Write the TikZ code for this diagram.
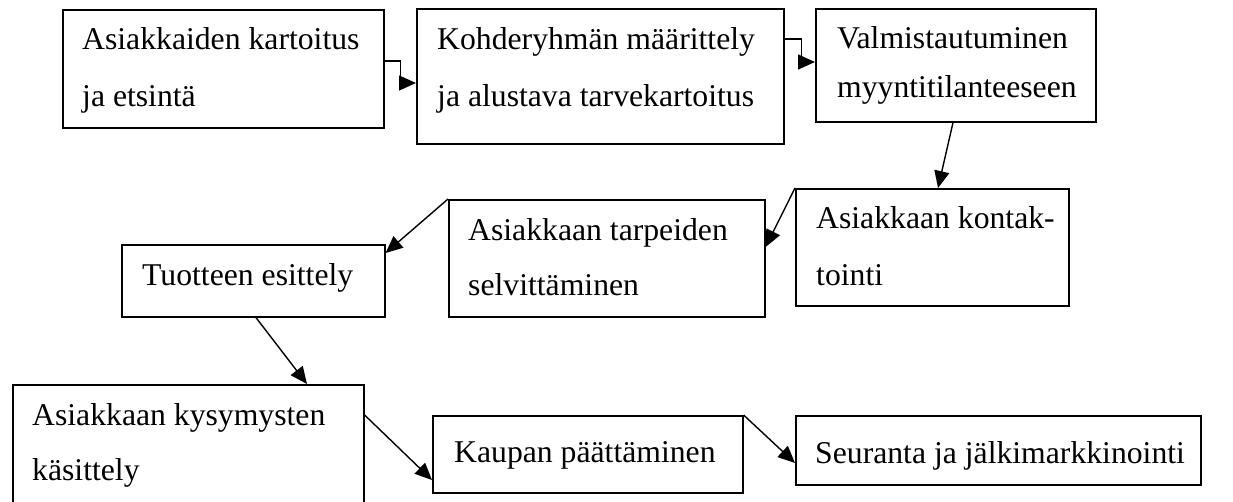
\documentclass[tikz,border=0pt]{standalone}
\usepackage{fontspec}
\setmainfont{Liberation Serif}
\usetikzlibrary{arrows.meta}

\tikzset{
  box/.style={draw, line width=1.6pt, anchor=north west, inner sep=0pt},
  txt/.style={anchor=north west, inner sep=0pt, align=left,
    font=\fontsize{31.7}{#1}\selectfont},
  txt/.default=57,
  arr/.style={line width=1.4pt, -{Triangle[length=17pt,width=15pt]}}
}

\begin{document}
\begin{tikzpicture}[x=1pt,y=-1pt]
\clip (0,0) rectangle (1233,501);
% top row
\node[box, minimum width=321pt, minimum height=118pt] (b1) at (62,9) {};
\node[txt] (t1) at (82,27) {Asiakkaiden kartoitus\\ja etsintä};
\node[box, minimum width=367pt, minimum height=135pt] (b2) at (416,8) {};
\node[txt] (t2) at (437,27) {Kohderyhmän määrittely\\ja alustava tarvekartoitus};
\node[box, minimum width=280pt, minimum height=113pt] (b3) at (815,8) {};
\node[txt=49] (t3) at (837,26) {Valmistautuminen\\myyntitilanteeseen};

% middle row
\node[box, minimum width=273pt, minimum height=117pt] (b5) at (795,188) {};
\node[txt] (t5) at (816,206) {Asiakkaan kontak-\\tointi};
\node[box, minimum width=316pt, minimum height=117pt] (b4) at (448,199) {};
\node[txt=55] (t4) at (468,218) {Asiakkaan tarpeiden\\selvittäminen};
\node[box, minimum width=263pt, minimum height=72pt] (b6) at (121,244) {};
\node[txt] (t6) at (142,263) {Tuotteen esittely};

% bottom row
\node[box, minimum width=351pt, minimum height=140pt] (b7) at (12,384) {};
\node[txt=55] (t7) at (32,403) {Asiakkaan kysymysten\\käsittely};
\node[box, minimum width=310pt, minimum height=77pt] (b8) at (432,415) {};
\node[txt] (t8) at (454,441) {Kaupan päättäminen};
\node[box, minimum width=405pt, minimum height=69pt] (b9) at (795,415) {};
\node[txt] (t9) at (815,441) {Seuranta ja jälkimarkkinointi};

% arrows
\draw[arr] ([yshift=-52pt]b1.north east) -- ++(16,0) |- ([yshift=-75pt]b2.north west);
\draw[arr] ([yshift=-31pt]b2.north east) -- ++(17,0) |- ([yshift=-54pt]b3.north west);
\draw[arr] ([xshift=138pt]b3.south west) -- ([xshift=143pt]b5.north west);
\draw[arr] (b5.north west) -- ([yshift=-48pt]b4.north east);
\draw[arr] (b4.north west) -- ([yshift=-9pt]b6.north east);
\draw[arr] ([xshift=135pt]b6.south west) -- ([xshift=295pt]b7.north west);
\draw[arr] ([yshift=-31pt]b7.north east) -- ([yshift=-65pt]b8.north west);
\draw[arr] (b8.north east) -- ([yshift=-48pt]b9.north west);
\end{tikzpicture}
\end{document}
